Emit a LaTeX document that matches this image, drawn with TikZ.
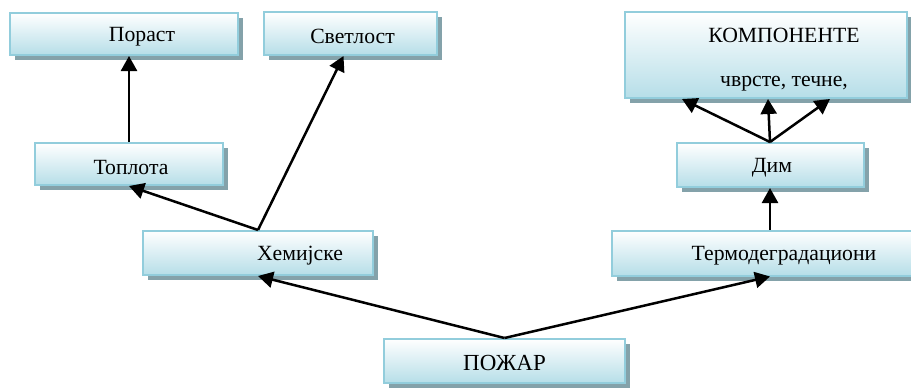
\documentclass[tikz,border=0pt]{standalone}
\usepackage{fontspec}
\setmainfont{Liberation Serif}
\usetikzlibrary{positioning,shadows,arrows.meta}
\definecolor{boxline}{RGB}{146,205,220}
\definecolor{boxfill}{RGB}{182,222,232}
\definecolor{boxshadow}{RGB}{132,162,170}

\begin{document}
\begin{tikzpicture}[x=1pt,y=1pt,on grid,
  box/.style={draw=boxline,line width=2pt,top color=white,bottom color=boxfill,
    minimum height=42pt,inner sep=0pt,
    drop shadow={shadow xshift=5pt,shadow yshift=-5pt,fill=boxshadow,opacity=1}},
  txt/.style={font=\fontsize{21.7}{26}\selectfont,yshift=-3pt},
  bigtxt/.style={font=\fontsize{23}{27}\selectfont,yshift=-2pt},
  conn/.style={-{Triangle[length=15pt,width=16pt]},line width=2.5pt}]
  \useasboundingbox (0,0) rectangle (911,-388);
  \path
  node[box,minimum width=241pt,minimum height=44pt,
    label={[bigtxt]center:ПОЖАР}] (pozar) at (504.5,-361) {}
  node[box,minimum width=230pt,minimum height=44pt,above left=108pt and 246.5pt of pozar,
    label={[txt,xshift=42pt]center:Хемијске}] (hemijske) {}
  node[box,minimum width=316pt,minimum height=45pt,above right=108pt and 265.5pt of pozar,
    label={[txt,xshift=14pt]center:Термодеградациони}] (termo) {}
  node[box,minimum width=188pt,above left=89pt and 129pt of hemijske,
    label={[txt,xshift=2pt]center:Топлота}] (toplota) {}
  node[box,minimum width=173pt,minimum height=43pt,above right=219.5pt and 92.5pt of hemijske,
    label={[txt,xshift=2pt]center:Светлост}] (svetlost) {}
  node[box,minimum width=228pt,above left=130pt and 5pt of toplota,
    label={[txt,xshift=18pt]center:Пораст}] (porast) {}
  node[box,minimum width=187pt,minimum height=44pt,above=88pt of termo,
    label={[txt,xshift=2pt]center:Дим}] (dim) {}
  node[box,minimum width=282pt,minimum height=86pt,above left=110pt and 4pt of dim,
    label={[txt,xshift=18pt,yshift=23pt]center:КОМПОНЕНТЕ},
    label={[txt,xshift=18pt,yshift=-26pt]center:чврсте, течне,}] (komp) {}
  ;
  \path[conn]
  (pozar.north) edge (hemijske.south)
  (pozar.north) edge (termo.south)

  (hemijske.north) edge (toplota.south)
  (hemijske.north) edge ([xshift=-7pt]svetlost.south)
  (toplota.north) edge (toplota.north |- porast.south)

  (termo.north) edge (dim.south)
  (dim.north) edge ([xshift=-84pt]komp.south)
  (dim.north) edge ([xshift=2pt]komp.south)
  (dim.north) edge ([xshift=64pt]komp.south)
  ;
\end{tikzpicture}
\end{document}
